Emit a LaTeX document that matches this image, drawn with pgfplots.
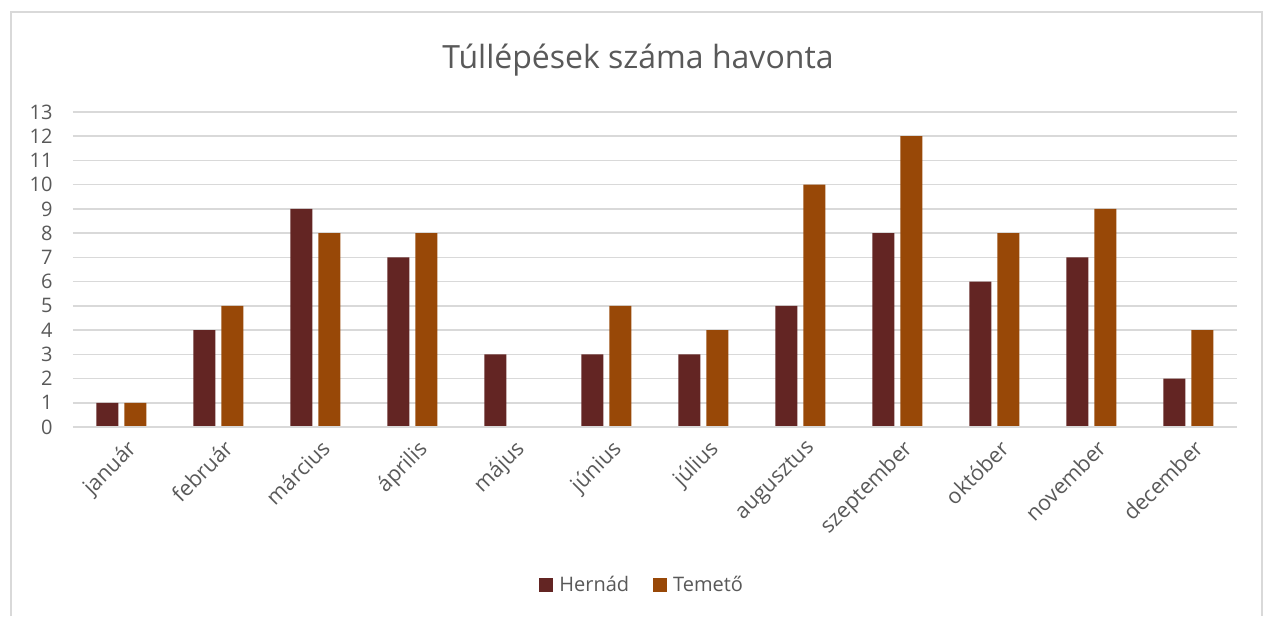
\documentclass[border=0pt]{standalone}
\usepackage{fontspec}
\setmainfont{Open Sans}
\usepackage{pgfplots}
\pgfplotsset{compat=1.18}
\definecolor{hernad}{HTML}{632523}
\definecolor{temeto}{HTML}{984807}
\definecolor{gridc}{HTML}{D9D9D9}
\definecolor{txt}{HTML}{595959}

\begin{document}
\begin{tikzpicture}[x=1pt,y=1pt]
  \useasboundingbox (0,0) rectangle (1264,-616);
  \draw[gridc, line width=1.2pt] (11,-616) -- (11,-12) -- (1262,-12) -- (1262,-616);
  \node[txt, font=\fontsize{32}{38}\selectfont] at (638,-60) {Túllépések száma havonta};
  \begin{axis}[
    at={(73pt,-427pt)}, anchor=south west,
    scale only axis, width=1164pt, height=315pt,
    ymin=0, ymax=13, xmin=-0.5, xmax=11.5,
    ytick={0,...,13},
    xtick={0,...,11},
    xticklabels={január,február,március,április,május,június,július,augusztus,szeptember,október,november,december},
    xticklabel style={rotate=45, anchor=north east, font=\fontsize{21.5}{24}\selectfont, text=txt, inner sep=1pt, xshift=-1pt, yshift=-7pt},
    yticklabel style={font=\fontsize{20}{22}\selectfont, text=txt, xshift=-17pt},
    /pgf/number format/assume math mode=true,
    ymajorgrids, major grid style={gridc, line width=1.5pt},
    axis line style={draw=none},
    axis x line*=bottom, axis y line*=left,
    tick style={draw=none},
    ybar=6pt, bar width=22pt,
    legend style={at={(axis description cs:0.489,-0.5)}, anchor=center, legend columns=2, draw=none,
      font=\fontsize{20}{22}\selectfont, text=txt,
      /tikz/every odd column/.append style={column sep=4pt},
      /tikz/every even column/.append style={column sep=22pt}},
    legend image code/.code={\fill[#1] (0pt,-7pt) rectangle (14pt,7pt);},
  ]
    \addplot[draw=none, fill=hernad] coordinates {(0,1)(1,4)(2,9)(3,7)(4,3)(5,3)(6,3)(7,5)(8,8)(9,6)(10,7)(11,2)};
    \addplot[draw=none, fill=temeto] coordinates {(0,1)(1,5)(2,8)(3,8)(4,0)(5,5)(6,4)(7,10)(8,12)(9,8)(10,9)(11,4)};
    \legend{Hernád,Temető}
  \end{axis}
  \draw[gridc, line width=1.5pt] (73,-427) -- (1237,-427);
\end{tikzpicture}
\end{document}
